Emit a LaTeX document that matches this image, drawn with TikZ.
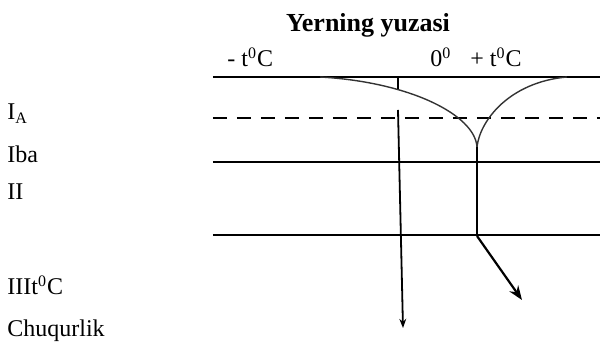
\documentclass[tikz,border=0pt]{standalone}
\usepackage{fontspec}
\setmainfont{Liberation Serif}
\usetikzlibrary{arrows.meta, positioning, calc}
\tikzset{
  schicht/.style={line width=0.65pt},
  grenze/.style={line width=0.65pt, dash pattern=on 7pt off 5pt},
  kurve/.style={line width=0.7pt, black!80},
  pfeil/.style={-{Stealth[length=2.5mm]}, line width=1.1pt},
  lab/.style={anchor=base west, inner sep=0pt, font=\fontsize{12}{14}\selectfont},
}

\begin{document}
\begin{tikzpicture}[x=0.5pt, y=-0.5pt]
    \useasboundingbox (0,0) rectangle (602,346);
    % Texte
    \node[lab, anchor=base, font=\fontsize{13}{15}\selectfont\bfseries] (titel) at (368,32) {Yerning yuzasi};
    \node[lab] (minus) at (227,67) {- t\textsuperscript{0}C};
    \node[lab] (null) at (430,67) {0\textsuperscript{0}};
    \node[lab] (plus) at (470,67) {+ t\textsuperscript{0}C};
    \node[lab] (la) at (7,120) {I\textsubscript{A}};
    \node[lab] (lba) at (7,163) {Iba};
    \node[lab] (lii) at (7,200) {II};
    \node[lab] (liii) at (7,295) {IIIt\textsuperscript{0}C};
    \node[lab] (tief) at (7,337) {Chuqurlik};
    % Schichtgrenzen
    \coordinate (o1) at (213,77);  \coordinate (o2) at (600,77);
    \coordinate (d1) at (213,118); \coordinate (d2) at (600,118);
    \coordinate (m1) at (213,162); \coordinate (m2) at (600,162);
    \coordinate (u1) at (213,235); \coordinate (u2) at (600,235);
    \draw[schicht] (o1) -- (o2);
    \draw[grenze] (d1) -- (d2);
    \draw[schicht] (m1) -- (m2);
    \draw[schicht] (u1) -- (u2);
    % Temperaturkurven
    \coordinate (ks) at (320,77);
    \coordinate (kr) at (567,77);
    \coordinate (sp) at (477,147);
    \draw[kurve] (ks) .. controls (410,82) and (475,115) .. (sp);
    \draw[kurve] (kr) .. controls (510,82) and (480,120) .. (sp);
    \coordinate (t1) at (398,77); \coordinate (t2) at (398,89);
    \draw[schicht] (t1) -- (t2);
    % Pfeile
    \coordinate (a1) at (398,110); \coordinate (a2) at (403,328);
    \draw[-{Stealth[length=1.6mm]}, line width=0.9pt] (a1) -- (a2);
    \coordinate (sb) at (477,236);
    \draw[line width=1.3pt] (sp) -- (sb);
    \coordinate (pe) at (522,300);
    \draw[pfeil] (sb) -- (pe);
  \end{tikzpicture}
\end{document}
